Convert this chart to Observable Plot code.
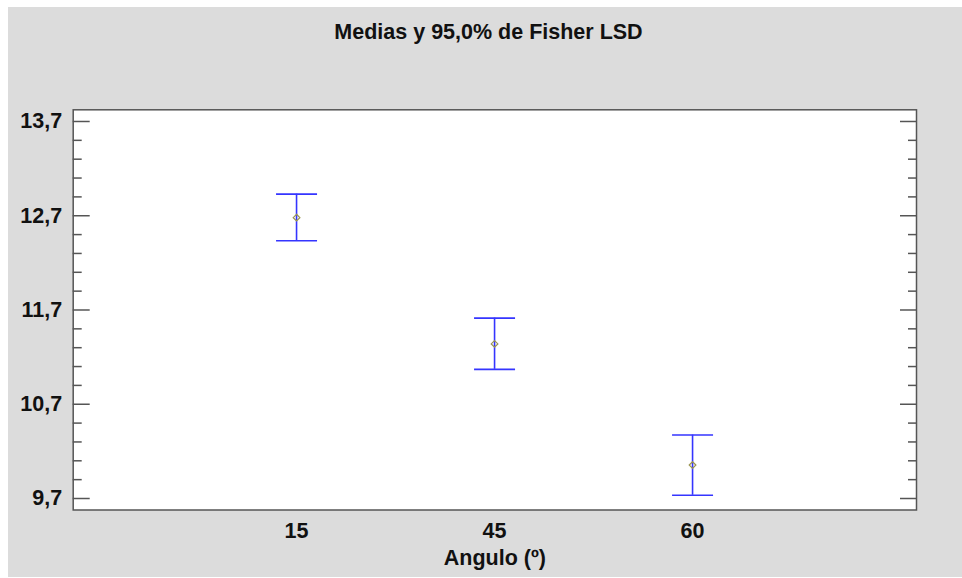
<!DOCTYPE html>
<html><head><meta charset="utf-8">
<script src="https://cdn.jsdelivr.net/npm/d3@7"></script>
<script src="https://cdn.jsdelivr.net/npm/@observablehq/plot@0.6"></script>
<style>
body{margin:0;background:#fff;}
#wrap{position:absolute;left:8px;top:7px;width:954px;height:570px;background:#dcdcdc;font-family:"Liberation Sans",Arial,sans-serif;}
#title{height:50px;line-height:50px;text-align:center;font-size:21.5px;font-weight:bold;color:#111;padding-left:7px;box-sizing:border-box;}
</style></head><body><div id="wrap"><div id="title">Medias y 95,0% de Fisher LSD</div></div>
<script>
const title = "Medias y 95,0% de Fisher LSD";
const xLabel = "Angulo (º)";
const categories = ["15", "45", "60"];
const means = [12.68, 11.34, 10.055];
const lower = [12.435, 11.07, 9.734];
const upper = [12.929, 11.614, 10.373];
const majorTicks = [9.7, 10.7, 11.7, 12.7, 13.7];
const minorTicks = [9.9, 10.1, 10.3, 10.5, 10.9, 11.1, 11.3, 11.5, 11.9, 12.1, 12.3, 12.5, 12.9, 13.1, 13.3, 13.5];
const yDomain = [9.578, 13.824];
const xDomain = [-0.128, 4.131];

const rows = categories.map((c, i) => ({pos: i + 1, cat: c, mean: means[i], lo: lower[i], hi: upper[i]}));

const capSymbol = {draw(context, size) { const w = Math.sqrt(size / Math.PI); context.moveTo(-w, 0); context.lineTo(w, 0); }};
const blue = "#3535ff";
const axisGray = "#555";
const fmt = d => d.toFixed(1).replace(".", ",");

const chart = Plot.plot({
  width: 954,
  height: 520,
  marginLeft: 64.7,
  marginRight: 46,
  marginTop: 52.3,
  marginBottom: 67.5,
  style: {background: "transparent", fontFamily: "'Liberation Sans', Arial, sans-serif", fontSize: "21.5px", fontWeight: "bold", color: "#111", overflow: "visible"},
  x: {domain: xDomain, label: null},
  y: {domain: yDomain, label: null},
  marks: [
    Plot.frame({fill: "white"}),
    Plot.axisY(minorTicks, {anchor: "left", tickSize: -9, fill: "none", stroke: axisGray, strokeWidth: 1.5, label: null}),
    Plot.axisY(majorTicks, {anchor: "left", tickSize: -17, fill: "none", stroke: axisGray, strokeWidth: 1.5, label: null}),
    Plot.axisY(minorTicks, {anchor: "right", tickSize: -9, fill: "none", stroke: axisGray, strokeWidth: 1.5, label: null}),
    Plot.axisY(majorTicks, {anchor: "right", tickSize: -17, fill: "none", stroke: axisGray, strokeWidth: 1.5, label: null}),
    Plot.axisY(majorTicks, {anchor: "left", tickSize: 0, tickPadding: 11, tickFormat: fmt, fill: "#111", fontSize: 21.5, fontWeight: "bold", label: null}),
    Plot.axisX(rows.map(r => r.pos), {anchor: "bottom", tickSize: 0, tickPadding: 13, tickFormat: p => categories[p - 1], fill: "#111", fontSize: 21.5, fontWeight: "bold", label: null}),
    Plot.text([xLabel], {text: d => d, frameAnchor: "bottom", lineAnchor: "top", dy: 39.5, fill: "#111", fontSize: 21.5, fontWeight: "bold"}),
    Plot.ruleX(rows, {x: "pos", y1: "lo", y2: "hi", stroke: blue, strokeWidth: 1.6}),
    Plot.dot(rows, {x: "pos", y: "hi", symbol: capSymbol, r: 20.5, fill: "none", stroke: blue, strokeWidth: 1.6}),
    Plot.dot(rows, {x: "pos", y: "lo", symbol: capSymbol, r: 20.5, fill: "none", stroke: blue, strokeWidth: 1.6}),
    Plot.dot(rows, {x: "pos", y: "mean", symbol: "diamond2", r: 3, fill: "none", stroke: "#9a9450", strokeWidth: 1.2}),
    Plot.frame({stroke: axisGray, strokeWidth: 1.5})
  ]
});
document.getElementById("wrap").appendChild(chart);
</script></body></html>
